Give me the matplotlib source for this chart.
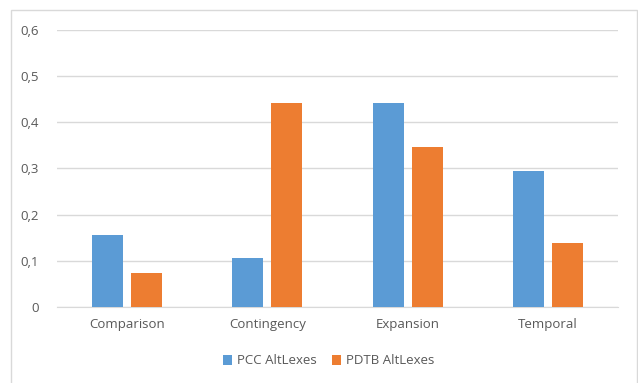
import matplotlib
matplotlib.use("Agg")
import matplotlib.pyplot as plt
import numpy as np
from matplotlib.patches import Rectangle
from matplotlib.ticker import FuncFormatter

# data
categories = ["Comparison", "Contingency", "Expansion", "Temporal"]
pcc_altlexes = [0.156, 0.105, 0.442, 0.294]
pdtb_altlexes = [0.074, 0.442, 0.346, 0.139]
series_names = ["PCC AltLexes", "PDTB AltLexes"]

blue = "#5B9BD5"
orange = "#ED7D31"
text_col = "#595959"
grid_col = "#D9D9D9"

plt.rcParams["font.family"] = ["Open Sans", "DejaVu Sans"]

fig = plt.figure(figsize=(6.38, 3.83), dpi=100)
ax = fig.add_axes([57 / 638, 1 - 307 / 383, 561 / 638, 277.3 / 383])

# outer chart border
fig.patches.append(Rectangle((11 / 638, -0.01), 626 / 638, 1 - 10 / 383 + 0.01,
                             transform=fig.transFigure, fill=False,
                             edgecolor=grid_col, linewidth=1))

x = np.arange(len(categories))
w = 0.22
off = 0.139
ax.bar(x - off, pcc_altlexes, w, color=blue, label=series_names[0], zorder=3)
ax.bar(x + off, pdtb_altlexes, w, color=orange, label=series_names[1], zorder=3)

ax.set_xlim(-0.5, len(categories) - 0.5)
ax.set_ylim(0, 0.6)
ax.set_yticks(np.arange(0, 0.61, 0.1))
ax.yaxis.set_major_formatter(FuncFormatter(
    lambda v, p: "0" if abs(v) < 1e-9 else f"{v:.1f}".replace(".", ",")))
ax.set_xticks(x)
ax.set_xticklabels(categories)

ax.grid(axis="y", color=grid_col, linewidth=1, zorder=0)
for s in ["top", "right", "left"]:
    ax.spines[s].set_visible(False)
ax.spines["bottom"].set_color(grid_col)
ax.tick_params(axis="both", length=0, labelsize=9.5, colors=text_col)
ax.tick_params(axis="x", pad=8)
ax.tick_params(axis="y", pad=13)

fig.legend(loc="center", bbox_to_anchor=(0.515, 1 - 361 / 383), ncol=2,
           frameon=False, fontsize=9.5, handlelength=0.7, handleheight=0.7,
           columnspacing=1.1, handletextpad=0.4, labelcolor=text_col)

fig.savefig("out.png", dpi=100)
